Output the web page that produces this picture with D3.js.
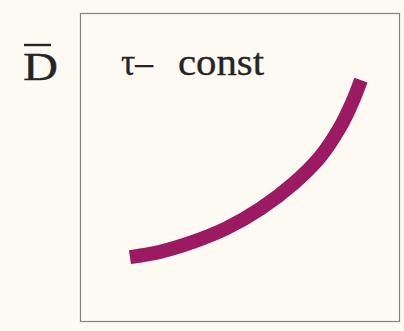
<!DOCTYPE html>
<html>
<head>
<meta charset="utf-8">
<script src="https://cdn.jsdelivr.net/npm/d3@7"></script>
<style>
  html, body { margin: 0; padding: 0; background: #fcfaf3; }
  svg { display: block; }
  text { font-family: "Liberation Serif", "Times New Roman", serif; fill: #262524; stroke: #262524; stroke-width: 0.35px; }
</style>
</head>
<body>
<svg id="chart" width="404" height="331"></svg>
<script>
// Curve of D̄ at constant τ (arbitrary units, 0–100 on both axes)
const xValues = [15.6, 25.0, 35.3, 45.9, 56.3, 66.6, 75.0, 81.3, 85.0, 87.8];
const yValues = [21.0, 22.7, 25.9, 30.4, 36.6, 44.7, 53.4, 63.1, 70.9, 78.3];
const axisLabel = "D";
const curveLabelSymbol = "τ–";
const curveLabelWord = "const";

const svg = d3.select("#chart");
const frame = { left: 80, top: 13, right: 400, bottom: 322 };

const x = d3.scaleLinear().domain([0, 100]).range([frame.left, frame.right]);
const y = d3.scaleLinear().domain([0, 100]).range([frame.bottom, frame.top]);

// plot frame
svg.append("rect")
  .attr("x", frame.left + 0.5).attr("y", frame.top + 0.5)
  .attr("width", frame.right - frame.left - 1)
  .attr("height", frame.bottom - frame.top - 1)
  .attr("fill", "none")
  .attr("stroke", "#85837f")
  .attr("stroke-width", 1.2);

// vertical axis label: D with an overbar
svg.append("text")
  .attr("x", 23).attr("y", 80)
  .attr("font-size", 40)
  .attr("textLength", 35).attr("lengthAdjust", "spacingAndGlyphs")
  .text(axisLabel);
svg.append("line")
  .attr("x1", 24).attr("x2", 51)
  .attr("y1", 45).attr("y2", 45)
  .attr("stroke", "#262524").attr("stroke-width", 2.4);

// curve label
const lbl = svg.append("text").attr("y", 75).attr("font-size", 38);
lbl.append("tspan").attr("x", 121)
  .attr("textLength", 32).attr("lengthAdjust", "spacingAndGlyphs")
  .text(curveLabelSymbol);
lbl.append("tspan").text(" ");
lbl.append("tspan").attr("x", 178)
  .attr("textLength", 86).attr("lengthAdjust", "spacingAndGlyphs")
  .text(curveLabelWord);

// the curve
const pts = xValues.map((v, i) => [v, yValues[i]]);
const line = d3.line()
  .x(d => x(d[0]))
  .y(d => y(d[1]))
  .curve(d3.curveCatmullRom);

svg.append("path")
  .datum(pts)
  .attr("d", line)
  .attr("fill", "none")
  .attr("stroke", "#9b1a61")
  .attr("stroke-width", 14)
  .attr("stroke-linecap", "butt");
</script>
</body>
</html>
